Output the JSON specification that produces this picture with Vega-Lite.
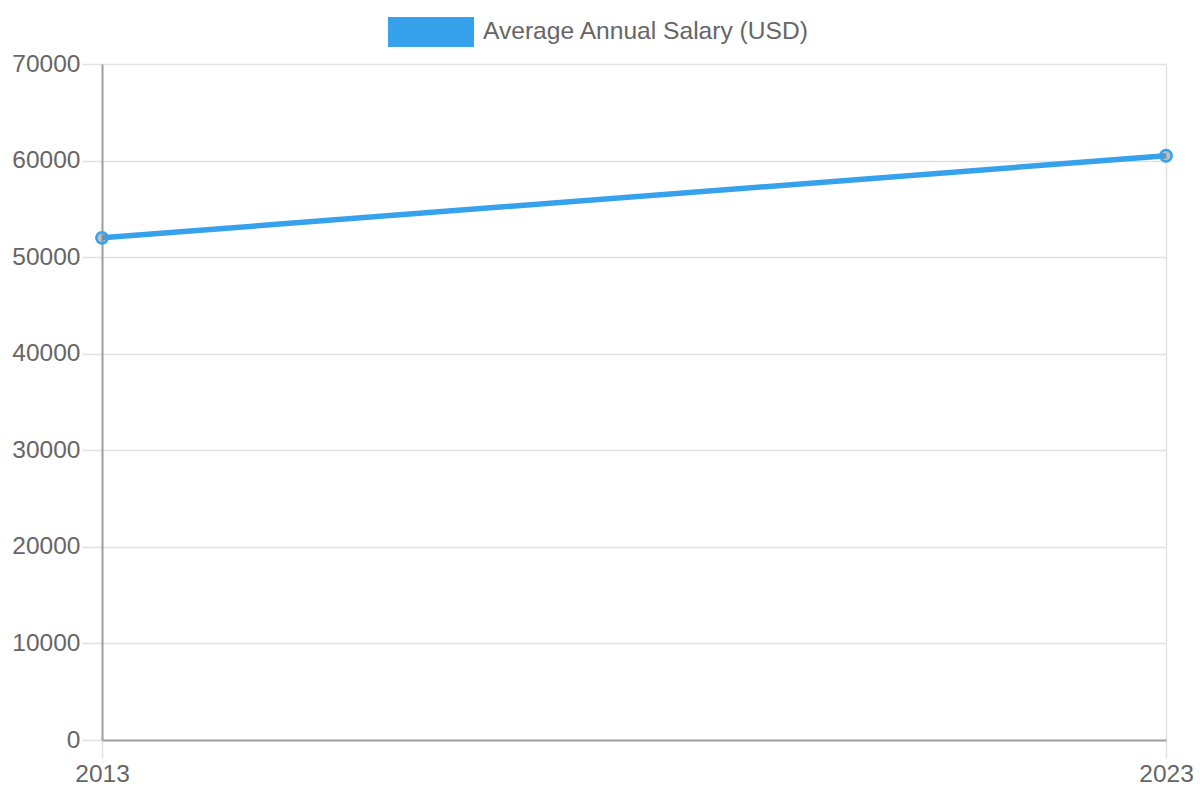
{
  "$schema": "https://vega.github.io/schema/vega-lite/v6.json",
  "autosize": "none",
  "width": 1064,
  "height": 676,
  "padding": {"left": 102, "top": 64, "right": 34, "bottom": 60},
  "background": "white",
  "config": {
    "view": {"stroke": null},
    "font": "Liberation Sans",
    "axis": {
      "labelFont": "Liberation Sans",
      "labelFontSize": 24.5,
      "labelColor": "#666666",
      "gridColor": "#e1e1e1",
      "gridWidth": 1.5,
      "tickColor": "#e1e1e1",
      "tickWidth": 1.5,
      "domainColor": "#a0a0a0",
      "domainWidth": 2,
      "labelFlush": false,
      "labelOverlap": false,
      "title": null
    }
  },
  "data": {
    "values": [
      {"year": 2013, "salary": 52000, "series": "Average Annual Salary (USD)"},
      {"year": 2023, "salary": 60500, "series": "Average Annual Salary (USD)"}
    ]
  },
  "encoding": {
    "x": {
      "field": "year",
      "type": "quantitative",
      "scale": {"domain": [2013, 2023], "nice": false, "zero": false},
      "axis": {"values": [2013, 2023], "format": "d", "tickSize": 18, "labelPadding": 4, "title": null}
    },
    "y": {
      "field": "salary",
      "type": "quantitative",
      "scale": {"domain": [0, 70000], "nice": false},
      "axis": {"values": [0, 10000, 20000, 30000, 40000, 50000, 60000, 70000], "format": "d", "tickSize": 20, "labelPadding": 2, "title": null}
    }
  },
  "layer": [
    {
      "mark": {"type": "line", "strokeWidth": 5.5, "clip": false},
      "encoding": {
        "color": {
          "field": "series",
          "type": "nominal",
          "scale": {"range": ["#36a2eb"]},
          "legend": {
            "orient": "none",
            "legendX": 286,
            "legendY": -75,
            "padding": 0,
            "title": null,
            "symbolType": "M-1,-0.35H1V0.35H-1Z",
            "symbolSize": 7396,
            "symbolStrokeWidth": 0,
            "symbolFillColor": "#36a2eb",
            "symbolOpacity": 1,
            "labelFont": "Liberation Sans",
            "labelFontSize": 24.6,
            "labelColor": "#666666",
            "labelOffset": 9,
            "labelLimit": 600,
            "encode": {
              "symbols": {"update": {"fill": {"value": "#36a2eb"}, "stroke": {"value": "#36a2eb"}, "strokeWidth": {"value": 0}}}
            }
          }
        }
      }
    },
    {
      "mark": {"type": "point", "filled": true, "size": 130, "fill": "rgba(130,140,150,0.55)", "stroke": "#36a2eb", "strokeWidth": 2.5, "opacity": 1, "clip": false}
    }
  ]
}
